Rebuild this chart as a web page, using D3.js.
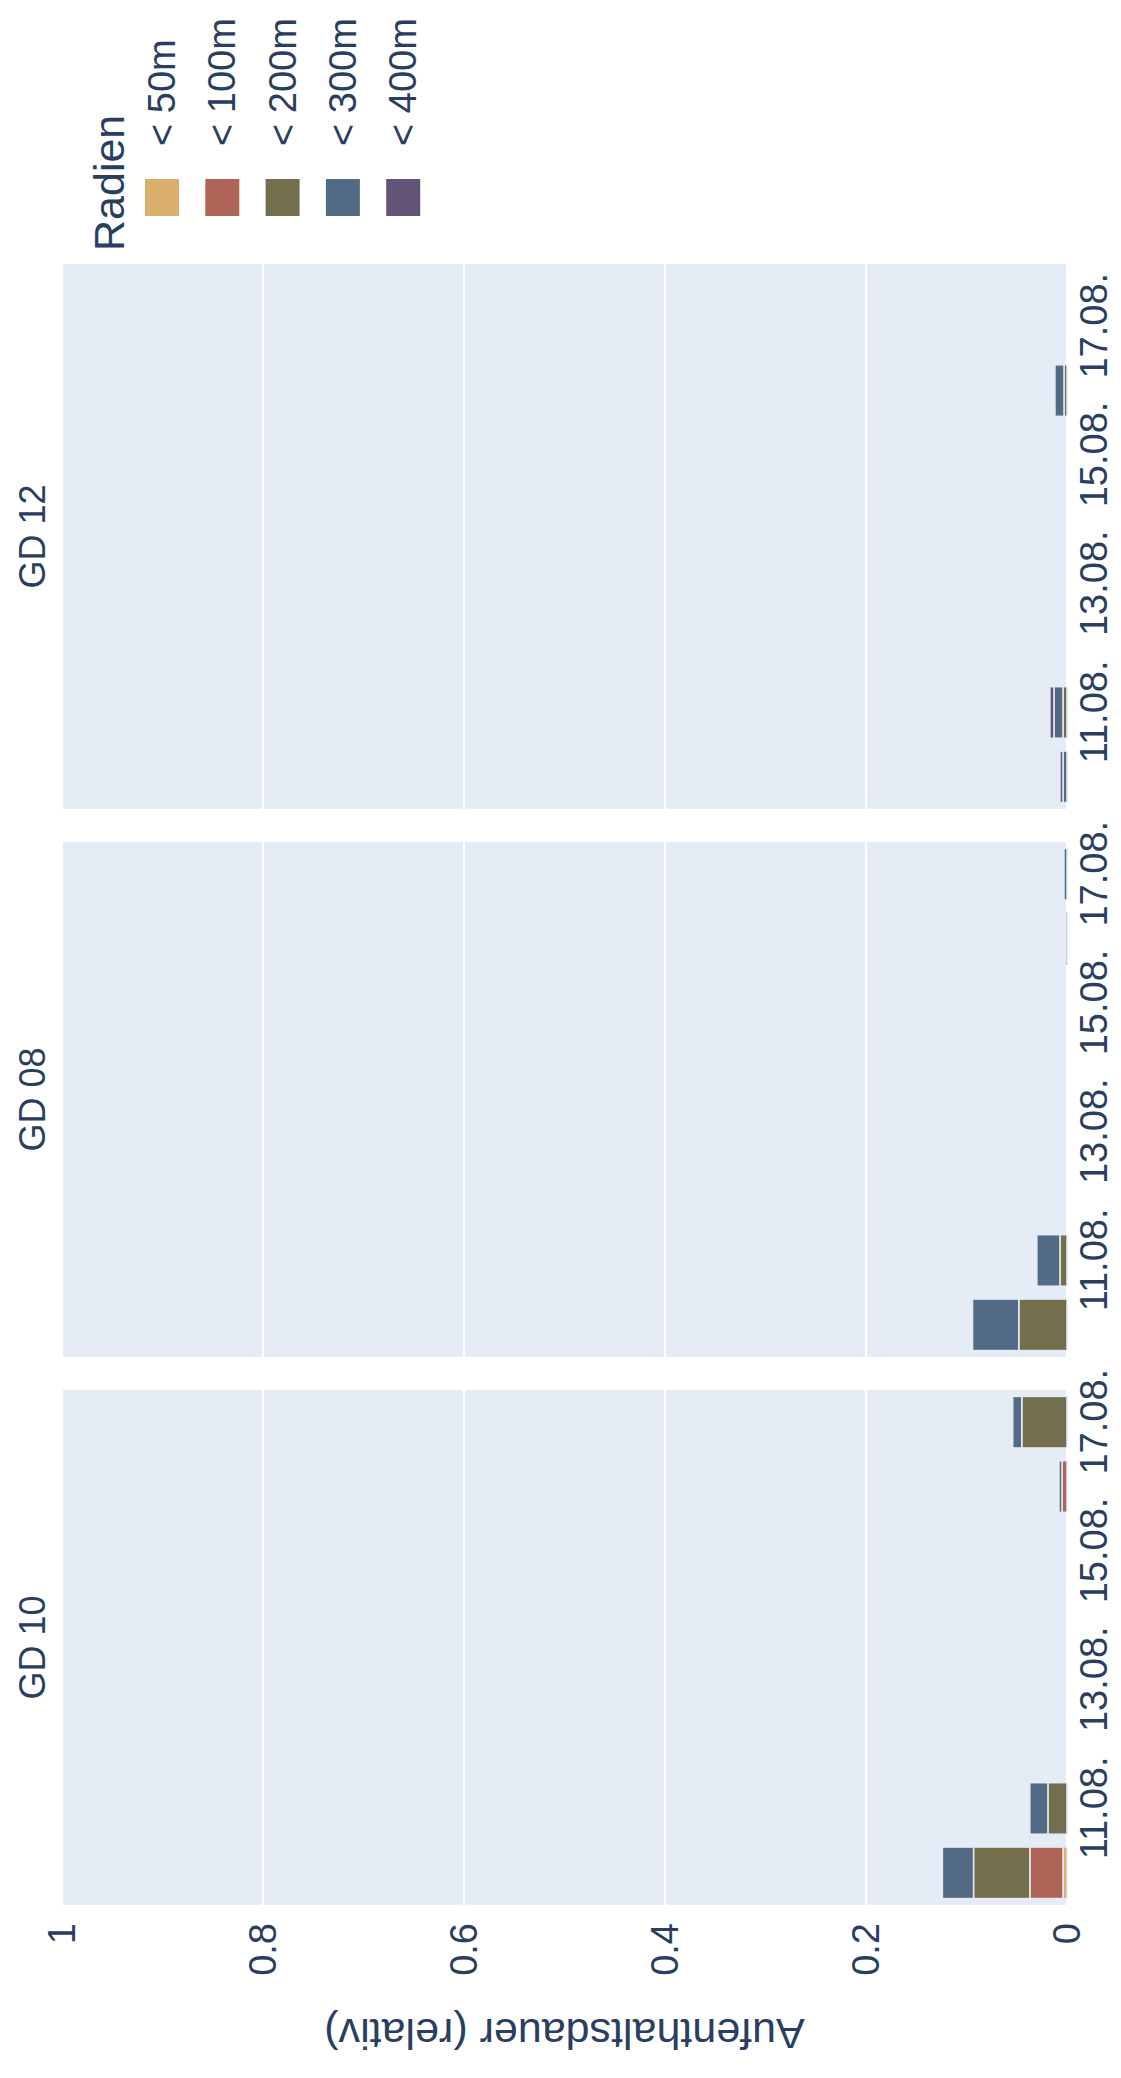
<!DOCTYPE html>
<html><head><meta charset="utf-8">
<script src="https://cdn.jsdelivr.net/npm/d3@7"></script>
<style>html,body{margin:0;padding:0;background:#fff;}</style>
</head><body>
<script>
// ---- data ----
const dates = ["2021-08-10","2021-08-11","2021-08-12","2021-08-13","2021-08-14","2021-08-15","2021-08-16","2021-08-17"];
const tickDates = ["2021-08-11","2021-08-13","2021-08-15","2021-08-17"];
const valueTicks = [0, 0.2, 0.4, 0.6, 0.8, 1];
const facets = ["GD 10", "GD 08", "GD 12"];
const radien = ["< 50m", "< 100m", "< 200m", "< 300m", "< 400m"];
const colors = ["rgb(217,175,107)", "rgb(175,100,88)", "rgb(115,111,76)", "rgb(82,106,131)", "rgb(98,83,119)"];

const gd10_lt50  = [0.004, 0,     0, 0, 0, 0, 0,      0];
const gd10_lt100 = [0.033, 0,     0, 0, 0, 0, 0.005,  0];
const gd10_lt200 = [0.056, 0.019, 0, 0, 0, 0, 0,      0.045];
const gd10_lt300 = [0.031, 0.018, 0, 0, 0, 0, 0.003,  0.009];
const gd10_lt400 = [0,     0,     0, 0, 0, 0, 0,      0];

const gd08_lt50  = [0,     0,     0, 0, 0, 0, 0,      0];
const gd08_lt100 = [0,     0,     0, 0, 0, 0, 0,      0];
const gd08_lt200 = [0.048, 0.007, 0, 0, 0, 0, 0,      0];
const gd08_lt300 = [0.046, 0.023, 0, 0, 0, 0, 0.0015, 0.003];
const gd08_lt400 = [0,     0,     0, 0, 0, 0, 0,      0];

const gd12_lt50  = [0,     0,     0, 0, 0, 0, 0,      0];
const gd12_lt100 = [0,     0,     0, 0, 0, 0, 0,      0];
const gd12_lt200 = [0,     0.004, 0, 0, 0, 0, 0.003,  0];
const gd12_lt300 = [0.004, 0.009, 0, 0, 0, 0, 0.009,  0];
const gd12_lt400 = [0.003, 0.004, 0, 0, 0, 0, 0,      0];

const seriesByFacet = {
  "GD 10": [gd10_lt50, gd10_lt100, gd10_lt200, gd10_lt300, gd10_lt400],
  "GD 08": [gd08_lt50, gd08_lt100, gd08_lt200, gd08_lt300, gd08_lt400],
  "GD 12": [gd12_lt50, gd12_lt100, gd12_lt200, gd12_lt300, gd12_lt400]
};

// ---- layout (drawn in landscape coordinates, then rotated) ----
const W = 2078, H = 1121;
const TXT = "#2a3f5f", BG = "#E5ECF6";
const FONT = "'Liberation Sans', Arial, sans-serif";
const parse = d3.utcParse("%Y-%m-%d");
const fmt = d3.utcFormat("%d.%m.");

const plotTop = 62, plotBottom = 1067;
const facetStart = 173, facetW = 515, facetGap = 33;
const facetExtra = [0, 0, 30];

const svg = d3.select("body").append("svg").attr("width", H).attr("height", W);
const g = svg.append("g").attr("transform", `translate(0,${W}) rotate(-90)`);

const y = d3.scaleLinear().domain([0, 1]).range([plotBottom, plotTop]);

facets.forEach((name, fi) => {
  const x0 = facetStart + fi * (facetW + facetGap);
  const d0 = d3.utcHour.offset(parse(dates[0]), -12);
  const d1 = d3.utcHour.offset(parse(dates[dates.length - 1]), 12);
  const x = d3.scaleUtc().domain([d0, d1]).range([x0, x0 + facetW]);
  const dayPx = x(parse(dates[1])) - x(parse(dates[0]));
  const bw = dayPx * 0.8;
  const pw = facetW + facetExtra[fi];

  const fg = g.append("g");
  fg.append("rect").attr("x", x0).attr("y", plotTop).attr("width", pw)
    .attr("height", plotBottom - plotTop).attr("fill", BG);

  // gridlines
  fg.selectAll("line.grid").data(valueTicks).join("line")
    .attr("x1", x0).attr("x2", x0 + pw)
    .attr("y1", d => y(d)).attr("y2", d => y(d))
    .attr("stroke", "#fff").attr("stroke-width", 2);

  // stacked bars
  const rows = dates.map((d, i) => {
    const r = { date: parse(d) };
    radien.forEach((rad, k) => r[rad] = seriesByFacet[name][k][i]);
    return r;
  });
  const stack = d3.stack().keys(radien)(rows);
  stack.forEach((layer, k) => {
    fg.append("g").selectAll("rect").data(layer.filter(d => d[1] - d[0] > 0)).join("rect")
      .attr("x", d => x(d.data.date) - bw / 2)
      .attr("width", bw)
      .attr("y", d => y(d[1]))
      .attr("height", d => y(d[0]) - y(d[1]))
      .attr("fill", colors[k])
      .attr("stroke", BG).attr("stroke-width", 1.5);
  });

  // date axis
  const xa = d3.axisBottom(x).tickValues(tickDates.map(parse)).tickFormat(fmt).tickSize(0).tickPadding(13);
  const ax = fg.append("g").attr("transform", `translate(0,${plotBottom})`).call(xa);
  ax.select(".domain").remove();
  ax.selectAll("text").attr("fill", TXT).style("font-family", FONT).style("font-size", "38px");

  // facet title
  fg.append("text").attr("x", x0 + pw / 2).attr("y", 45)
    .attr("text-anchor", "middle").attr("fill", TXT)
    .style("font-family", FONT).style("font-size", "36px").text(name);

  if (fi === 0) {
    const ya = d3.axisLeft(y).tickValues(valueTicks).tickFormat(d3.format("~g")).tickSize(0).tickPadding(18);
    const ay = fg.append("g").attr("transform", `translate(${x0},0)`).call(ya);
    ay.select(".domain").remove();
    ay.selectAll("text").attr("fill", TXT).style("font-family", FONT).style("font-size", "38px");
  }
});

// y axis title
g.append("text").attr("transform", `translate(44,${(plotTop + plotBottom) / 2}) rotate(-90)`)
  .attr("text-anchor", "middle").attr("dominant-baseline", "central")
  .attr("fill", TXT).style("font-family", FONT).style("font-size", "43px")
  .text("Aufenthaltsdauer (relativ)");

// legend
const lg = g.append("g");
lg.append("text").attr("x", 1827).attr("y", 124).attr("fill", TXT)
  .style("font-family", FONT).style("font-size", "43px").text("Radien");
const items = lg.selectAll("g.item").data(radien).join("g")
  .attr("transform", (d, i) => `translate(0,${162 + i * 60.3})`);
items.append("rect").attr("x", 1862).attr("y", -17).attr("width", 37).attr("height", 34)
  .attr("fill", (d, i) => colors[i]);
items.append("text").attr("x", 1932).attr("y", 0).attr("dominant-baseline", "central")
  .attr("fill", TXT).style("font-family", FONT).style("font-size", "38px").text(d => d);
</script>
</body></html>
